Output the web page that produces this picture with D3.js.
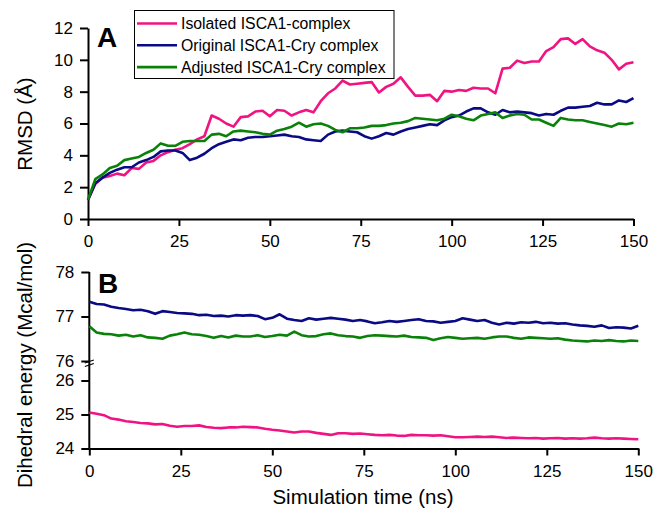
<!DOCTYPE html>
<html>
<head>
<meta charset="utf-8">
<script src="https://cdn.jsdelivr.net/npm/d3@7"></script>
<style>
	body { margin: 0; background: #fff; }
	svg { font-family: 'Liberation Sans', Arial, sans-serif; }
	.axis path, .axis line { stroke: #000; stroke-width: 2; }
	.axis text { font-size: 17px; fill: #000; font-family: 'Liberation Sans', Arial, sans-serif; }
	.axis_title { font-size: 20.5px; fill: #000; }
	.panel_label { font-size: 28px; font-weight: bold; }
	.legend_text { font-size: 15.8px; }
	.series { fill: none; stroke-width: 2.6; stroke-linejoin: round; }
</style>
</head>
<body>
<svg id="chart" width="654" height="513"></svg>
<script>
// time axis (ns), same sampling for all series
const timeNs = [0, 2, 4, 6, 8, 10, 12, 14, 16, 18, 20, 22, 24, 26, 28, 30, 32, 34, 36, 38,
	40, 42, 44, 46, 48, 50, 52, 54, 56, 58, 60, 62, 64, 66, 68, 70, 72, 74, 76, 78,
	80, 82, 84, 86, 88, 90, 92, 94, 96, 98, 100, 102, 104, 106, 108, 110, 112, 114, 116, 118,
	120, 122, 124, 126, 128, 130, 132, 134, 136, 138, 140, 142, 144, 146, 148, 150];

const seriesNames = ['Isolated ISCA1-complex', 'Original ISCA1-Cry complex', 'Adjusted ISCA1-Cry complex'];
const seriesColors = ['#f01482', '#0a0a85', '#0a820a'];

// Panel A: RMSD (Å)
const rmsdIsolated = [1.2, 2.2, 2.6, 2.7, 2.85, 2.75, 3.2, 3.15, 3.55, 3.65, 4.0, 4.2, 4.35, 4.45, 4.7, 5.0, 5.2, 6.5, 6.3, 6.0,
	5.8, 6.4, 6.45, 6.75, 6.8, 6.45, 6.85, 6.8, 6.5, 6.7, 6.85, 6.7, 7.4, 7.9, 8.2, 8.7, 8.45, 8.5, 8.55, 8.6,
	7.95, 8.3, 8.5, 8.9, 8.3, 7.75, 7.75, 7.8, 7.4, 8.05, 8.0, 8.1, 8.05, 8.25, 8.2, 8.2, 7.9, 9.45, 9.5, 9.95,
	9.8, 9.9, 9.9, 10.55, 10.8, 11.3, 11.35, 11.0, 11.3, 10.85, 10.6, 10.45, 10.0, 9.4, 9.75, 9.85];
const rmsdOriginal = [1.2, 2.25, 2.6, 2.9, 3.1, 3.25, 3.25, 3.55, 3.7, 3.9, 4.25, 4.3, 4.3, 4.15, 3.7, 3.85, 4.1, 4.45, 4.7, 4.85,
	5.0, 4.95, 5.1, 5.15, 5.15, 5.2, 5.25, 5.3, 5.2, 5.15, 5.0, 4.95, 4.9, 5.3, 5.5, 5.55, 5.5, 5.45, 5.2, 5.05,
	5.2, 5.4, 5.3, 5.5, 5.65, 5.75, 5.85, 5.95, 5.9, 6.2, 6.4, 6.5, 6.75, 6.95, 6.95, 6.7, 6.55, 6.85, 6.7, 6.75,
	6.7, 6.65, 6.5, 6.6, 6.55, 6.8, 7.0, 7.0, 7.05, 7.1, 7.3, 7.2, 7.2, 7.45, 7.35, 7.6];
const rmsdAdjusted = [1.2, 2.5, 2.8, 3.2, 3.35, 3.7, 3.8, 3.9, 4.15, 4.35, 4.75, 4.6, 4.6, 4.85, 4.9, 4.9, 4.9, 5.3, 5.35, 5.2,
	5.5, 5.55, 5.5, 5.45, 5.35, 5.3, 5.55, 5.65, 5.8, 6.05, 5.8, 5.95, 6.0, 5.85, 5.6, 5.45, 5.7, 5.7, 5.75, 5.85,
	5.85, 5.9, 6.0, 6.05, 6.15, 6.35, 6.3, 6.25, 6.2, 6.3, 6.55, 6.45, 6.3, 6.2, 6.5, 6.6, 6.7, 6.35, 6.5, 6.6,
	6.55, 6.25, 6.25, 6.05, 5.85, 6.35, 6.25, 6.2, 6.2, 6.1, 6.0, 5.9, 5.8, 6.0, 5.95, 6.05];

// Panel B: dihedral energy (Mcal/mol)
const dihIsolated = [25.06, 25.02, 24.98, 24.88, 24.85, 24.8, 24.78, 24.75, 24.74, 24.71, 24.72, 24.67, 24.64, 24.66, 24.66, 24.68, 24.63, 24.61, 24.6, 24.62,
	24.62, 24.64, 24.63, 24.62, 24.58, 24.55, 24.53, 24.5, 24.47, 24.5, 24.5, 24.46, 24.43, 24.4, 24.45, 24.45, 24.43, 24.44, 24.42, 24.4,
	24.39, 24.4, 24.38, 24.37, 24.4, 24.39, 24.39, 24.38, 24.39, 24.36, 24.33, 24.33, 24.34, 24.35, 24.34, 24.35, 24.33, 24.31, 24.32, 24.31,
	24.3, 24.31, 24.29, 24.3, 24.31, 24.29, 24.3, 24.29, 24.3, 24.32, 24.3, 24.29, 24.3, 24.29, 24.28, 24.27];
const dihOriginal = [77.33, 77.28, 77.27, 77.22, 77.19, 77.17, 77.14, 77.15, 77.12, 77.06, 77.12, 77.1, 77.08, 77.07, 77.06, 77.03, 77.04, 77.01, 77.02, 77.0,
	77.03, 77.02, 77.03, 77.01, 76.94, 76.97, 77.05, 76.95, 76.92, 76.9, 76.96, 76.93, 76.95, 76.97, 76.95, 76.93, 76.9, 76.92, 76.89, 76.85,
	76.87, 76.9, 76.88, 76.9, 76.92, 76.94, 76.9, 76.89, 76.86, 76.88, 76.9, 76.96, 76.93, 76.9, 76.92, 76.86, 76.82, 76.86, 76.84, 76.87,
	76.86, 76.88, 76.85, 76.86, 76.84, 76.85, 76.82, 76.8, 76.79, 76.77, 76.8, 76.74, 76.76, 76.75, 76.73, 76.79];
const dihAdjusted = [76.78, 76.64, 76.61, 76.6, 76.57, 76.59, 76.55, 76.58, 76.53, 76.52, 76.5, 76.57, 76.6, 76.64, 76.6, 76.59, 76.56, 76.52, 76.56, 76.53,
	76.57, 76.55, 76.55, 76.58, 76.54, 76.56, 76.59, 76.57, 76.66, 76.58, 76.55, 76.56, 76.6, 76.62, 76.58, 76.56, 76.55, 76.52, 76.56, 76.58,
	76.57, 76.56, 76.55, 76.57, 76.54, 76.53, 76.52, 76.47, 76.51, 76.54, 76.52, 76.5, 76.51, 76.52, 76.5, 76.53, 76.55, 76.55, 76.52, 76.5,
	76.53, 76.52, 76.51, 76.5, 76.51, 76.48, 76.46, 76.45, 76.44, 76.46, 76.45, 76.47, 76.45, 76.44, 76.46, 76.45];

const xTicks = [0, 25, 50, 75, 100, 125, 150];
const rmsdTicks = [0, 2, 4, 6, 8, 10, 12];
const dihUpperTicks = [76, 77, 78];
const dihLowerTicks = [24, 25, 26];

const svg = d3.select('#chart');
const fmt = d3.format('d');

// ---------- Panel A ----------
const xA = d3.scaleLinear().domain([0, 150]).range([88, 633.5]);
const yA = d3.scaleLinear().domain([0, 12]).range([219, 28]);

const gA = svg.append('g').attr('class', 'g_panel_a');

gA.append('g')
	.attr('class', 'axis')
	.attr('transform', 'translate(0,' + yA(0) + ')')
	.call(d3.axisBottom(xA).tickValues(xTicks).tickFormat(fmt).tickSizeInner(7).tickSizeOuter(0).tickPadding(9));

gA.append('g')
	.attr('class', 'axis')
	.attr('transform', 'translate(' + xA(0) + ',0)')
	.call(d3.axisLeft(yA).tickValues(rmsdTicks).tickFormat(fmt).tickSizeInner(8).tickSizeOuter(0).tickPadding(7));

const lineA = (vals) => d3.line()
	.x((d, i) => xA(timeNs[i]))
	.y(d => yA(d))(vals);

[rmsdIsolated, rmsdOriginal, rmsdAdjusted].forEach((vals, i) => {
	gA.append('path')
		.attr('class', 'series')
		.attr('d', lineA(vals))
		.style('stroke', seriesColors[i]);
});

gA.append('text')
	.attr('class', 'panel_label')
	.attr('x', 97)
	.attr('y', 47)
	.text('A');

gA.append('text')
	.attr('class', 'axis_title')
	.attr('transform', 'translate(32,124) rotate(-90)')
	.attr('text-anchor', 'middle')
	.text('RMSD (Å)');

// legend
const gLegend = gA.append('g').attr('class', 'g_legend');
gLegend.append('rect')
	.attr('x', 134.5)
	.attr('y', 10.5)
	.attr('width', 259.5)
	.attr('height', 68)
	.style('fill', '#fff')
	.style('stroke', '#000')
	.style('stroke-width', 1);

seriesNames.forEach((name, i) => {
	const yRow = 23.5 + i * 21.8;
	gLegend.append('line')
		.attr('x1', 137)
		.attr('x2', 177)
		.attr('y1', yRow)
		.attr('y2', yRow)
		.style('stroke', seriesColors[i])
		.style('stroke-width', 2.6);
	gLegend.append('text')
		.attr('class', 'legend_text')
		.attr('x', 181)
		.attr('y', yRow + 5.5)
		.text(name);
});

// ---------- Panel B (broken y axis) ----------
const xB = d3.scaleLinear().domain([0, 150]).range([89.3, 638.3]);
const yUpper = d3.scaleLinear().domain([76, 78]).range([361, 272]);
const yLower = d3.scaleLinear().domain([24, 26]).range([448.5, 380.5]);

const gB = svg.append('g').attr('class', 'g_panel_b');

gB.append('g')
	.attr('class', 'axis')
	.attr('transform', 'translate(0,' + yLower(24) + ')')
	.call(d3.axisBottom(xB).tickValues(xTicks).tickFormat(fmt).tickSizeInner(7).tickSizeOuter(0).tickPadding(9));

gB.append('line')
	.attr('x1', xB(0))
	.attr('x2', xB(0))
	.attr('y1', yUpper(78))
	.attr('y2', yLower(24))
	.style('stroke', '#000')
	.style('stroke-width', 2);

[[yUpper, dihUpperTicks], [yLower, dihLowerTicks]].forEach(([sc, ticks]) => {
	const gAx = gB.append('g')
		.attr('class', 'axis')
		.attr('transform', 'translate(' + xB(0) + ',0)')
		.call(d3.axisLeft(sc).tickValues(ticks).tickFormat(fmt).tickSizeInner(8).tickSizeOuter(0).tickPadding(7));
	gAx.select('.domain').remove();
});

// break mark on the y axis
[0, 3.5].forEach(dy => {
	gB.append('line')
		.attr('x1', xB(0) - 4.5)
		.attr('x2', xB(0) + 4.5)
		.attr('y1', yUpper(76) + 2 + dy)
		.attr('y2', yUpper(76) - 1 + dy)
		.style('stroke', '#000')
		.style('stroke-width', 1.3);
});

const lineB = (vals, sc) => d3.line()
	.x((d, i) => xB(timeNs[i]))
	.y(d => sc(d))(vals);

gB.append('path')
	.attr('class', 'series')
	.attr('d', lineB(dihIsolated, yLower))
	.style('stroke', seriesColors[0]);
gB.append('path')
	.attr('class', 'series')
	.attr('d', lineB(dihOriginal, yUpper))
	.style('stroke', seriesColors[1]);
gB.append('path')
	.attr('class', 'series')
	.attr('d', lineB(dihAdjusted, yUpper))
	.style('stroke', seriesColors[2]);

gB.append('text')
	.attr('class', 'panel_label')
	.attr('x', 98)
	.attr('y', 293)
	.text('B');

gB.append('text')
	.attr('class', 'axis_title')
	.attr('transform', 'translate(32,365) rotate(-90)')
	.attr('text-anchor', 'middle')
	.text('Dihedral energy (Mcal/mol)');

svg.append('text')
	.attr('class', 'axis_title')
	.attr('x', 363)
	.attr('y', 504)
	.attr('text-anchor', 'middle')
	.text('Simulation time (ns)');
</script>
</body>
</html>
